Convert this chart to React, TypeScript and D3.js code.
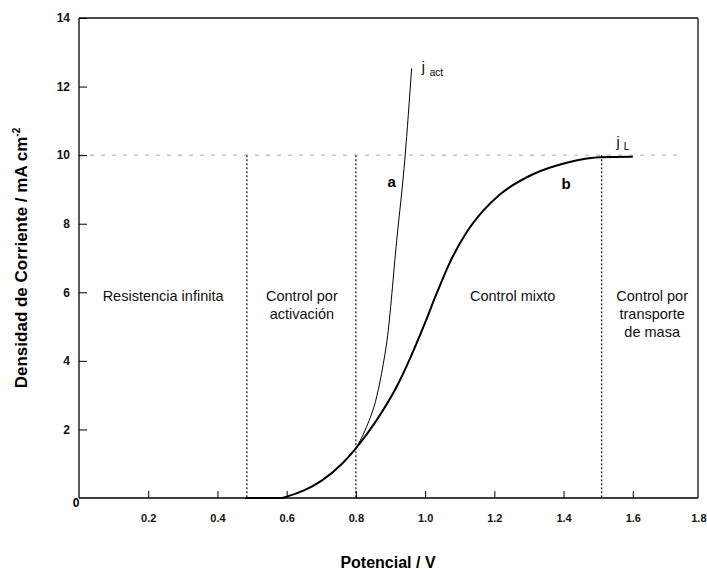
import { useRef, useEffect } from 'react';
import * as d3 from 'd3';

// curve b: measured current (mixed control)
const curveBV = [0.48, 0.585, 0.6, 0.65, 0.7, 0.76, 0.8, 0.86, 0.918, 0.956, 0.995, 1.034, 1.072, 1.12, 1.168, 1.216, 1.313, 1.409, 1.467, 1.505, 1.6];
const curveBJ = [0, 0, 0.04, 0.22, 0.5, 1.0, 1.45, 2.27, 3.25, 4.06, 4.99, 5.98, 6.88, 7.75, 8.38, 8.85, 9.45, 9.78, 9.9, 9.94, 9.95];

// curve a: pure activation current
const curveAV = [0.8, 0.831, 0.86, 0.879, 0.89, 0.918, 0.942, 0.961];
const curveAJ = [1.45, 2.08, 2.95, 3.9, 4.6, 7.52, 9.95, 12.53];

const xTicks = [0.2, 0.4, 0.6, 0.8, 1.0, 1.2, 1.4, 1.6, 1.8];
const xTickLabels = ['0.2', '0.4', '0.6', '0.8', '1.0', '1.2', '1.4', '1.6', '1.8'];
const yTicks = [2, 4, 6, 8, 10, 12, 14];

const limitCurrent = 10;
const regionBounds = [0.485, 0.8, 1.51];

const W = 707;
const H = 571;
const margin = { top: 18, right: 9, bottom: 73, left: 79 };
const font = 'Liberation Sans, Arial, sans-serif';

export default function App() {
	const svgRef = useRef<SVGSVGElement>(null);

	useEffect(() => {
		const svg = d3.select(svgRef.current);
		svg.selectAll('*').remove();

		const plotW = W - margin.left - margin.right;
		const plotH = H - margin.top - margin.bottom;
		const x = d3.scaleLinear().domain([0, 1.8]).range([0, plotW + 4]);
		const y = d3.scaleLinear().domain([0, 14]).range([plotH, 0]);

		const g = svg
			.append('g')
			.attr('transform', `translate(${margin.left},${margin.top})`);

		// j_L dashed line
		g.append('line')
			.attr('x1', 0)
			.attr('x2', x(1.745))
			.attr('y1', y(limitCurrent))
			.attr('y2', y(limitCurrent))
			.attr('stroke', '#aaa')
			.attr('stroke-width', 1)
			.attr('stroke-dasharray', '4,7');

		// region boundaries
		regionBounds.forEach((v) => {
			g.append('line')
				.attr('x1', x(v))
				.attr('x2', x(v))
				.attr('y1', y(limitCurrent))
				.attr('y2', y(0))
				.attr('stroke', '#111')
				.attr('stroke-width', 1.2)
				.attr('stroke-dasharray', '2,2');
		});

		// frame
		g.append('line').attr('x1', 0).attr('x2', plotW).attr('y1', 0).attr('y2', 0).attr('stroke', '#111').attr('stroke-width', 1.3);
		g.append('line').attr('x1', plotW).attr('x2', plotW).attr('y1', 0).attr('y2', plotH).attr('stroke', '#111').attr('stroke-width', 1.3);

		// axes with inward ticks
		const xAxis = g
			.append('g')
			.attr('transform', `translate(0,${plotH})`)
			.call(
				d3
					.axisBottom(x)
					.tickValues(xTicks)
					.tickSize(-7)
					.tickPadding(16)
					.tickFormat((_, i) => xTickLabels[i]),
			);
		xAxis.select('.domain').attr('d', `M0,0H${plotW}`).attr('stroke-width', 1.3);
		const lastTick = xAxis.selectAll('.tick').filter((d) => d === 1.8);
		lastTick.select('line').remove();
		lastTick.select('text').attr('text-anchor', 'end').attr('x', W - margin.left - 1 - x(1.8));
		xAxis
			.selectAll('text')
			.attr('font-size', 11)
			.attr('font-weight', 'bold')
			.attr('font-family', font)
			.attr('fill', '#111');

		const yAxis = g
			.append('g')
			.call(d3.axisLeft(y).tickValues(yTicks).tickSize(-8).tickPadding(9));
		yAxis.select('.domain').attr('d', `M0,${plotH}V0`).attr('stroke-width', 1.3);
		yAxis
			.selectAll('text')
			.attr('font-size', 12)
			.attr('font-weight', 'bold')
			.attr('font-family', font)
			.attr('fill', '#111');

		// origin label
		g.append('text')
			.attr('x', -3)
			.attr('y', plotH + 9)
			.attr('text-anchor', 'middle')
			.attr('font-size', 12)
			.attr('font-weight', 'bold')
			.attr('font-family', font)
			.text('0');

		const line = d3
			.line<number>()
			.x((v) => x(v))
			.curve(d3.curveMonotoneX);

		// curve b
		g.append('path')
			.attr('d', line.y((_, i) => y(curveBJ[i]))(curveBV))
			.attr('fill', 'none')
			.attr('stroke', '#000')
			.attr('stroke-width', 2);

		// curve a
		g.append('path')
			.attr('d', line.y((_, i) => y(curveAJ[i]))(curveAV))
			.attr('fill', 'none')
			.attr('stroke', '#000')
			.attr('stroke-width', 1);

		// curve labels
		g.append('text').attr('x', x(0.9035)).attr('y', 187 - margin.top).attr('text-anchor', 'middle').attr('font-size', 15).attr('font-weight', 'bold').attr('font-family', font).text('a');
		g.append('text').attr('x', x(1.407)).attr('y', 189 - margin.top).attr('text-anchor', 'middle').attr('font-size', 15).attr('font-weight', 'bold').attr('font-family', font).text('b');

		const jAct = g.append('text').attr('x', x(0.99)).attr('y', 72 - margin.top).attr('font-size', 14).attr('font-family', font);
		jAct.append('tspan').text('j');
		jAct.append('tspan').attr('dx', 5).attr('dy', 4).attr('font-size', 10).text('act');

		const jL = g.append('text').attr('x', x(1.553)).attr('y', 147 - margin.top).attr('font-size', 14).attr('font-family', font);
		jL.append('tspan').text('j');
		jL.append('tspan').attr('dx', 4).attr('dy', 3).attr('font-size', 10).text('L');

		// region labels
		const regions: { v: number; lines: string[] }[] = [
			{ v: 0.243, lines: ['Resistencia infinita'] },
			{ v: 0.644, lines: ['Control por', 'activación'] },
			{ v: 1.253, lines: ['Control mixto'] },
			{ v: 1.656, lines: ['Control por', 'transporte', 'de masa'] },
		];
		regions.forEach((r) => {
			r.lines.forEach((t, i) => {
				g.append('text')
					.attr('x', x(r.v))
					.attr('y', 301 - margin.top + i * 18)
					.attr('text-anchor', 'middle')
					.attr('font-size', 14.5)
					.attr('font-family', font)
					.attr('fill', '#111')
					.text(t);
			});
		});

		// axis titles
		svg.append('text')
			.attr('x', 388)
			.attr('y', 568)
			.attr('text-anchor', 'middle')
			.attr('font-size', 16)
			.attr('font-weight', 'bold')
			.attr('font-family', font)
			.text('Potencial / V');

		const yt = svg
			.append('text')
			.attr('transform', `translate(27,258) rotate(-90)`)
			.attr('text-anchor', 'middle')
			.attr('font-size', 17)
			.attr('font-weight', 'bold')
			.attr('font-family', font);
		yt.append('tspan').text('Densidad de Corriente / mA cm');
		yt.append('tspan').attr('dy', -7).attr('font-size', 10).text('-2');
	}, []);

	return (
		<div style={{ position: 'absolute', left: 0, top: 0 }}>
			<svg
				ref={svgRef}
				width={W}
				height={H}
				style={{ display: 'block', background: '#fff', fontFamily: font }}
			/>
		</div>
	);
}
